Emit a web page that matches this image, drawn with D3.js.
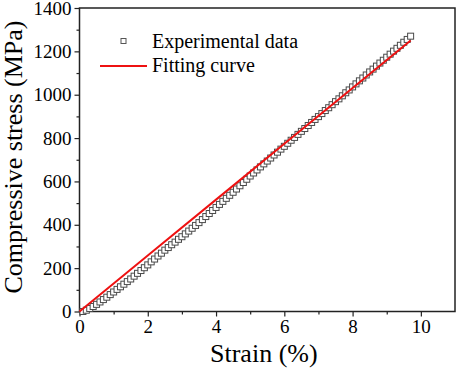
<!DOCTYPE html>
<html>
<head>
<meta charset="utf-8">
<script src="https://cdn.jsdelivr.net/npm/d3@7"></script>
<style>
  body { margin: 0; background: #fff; }
  svg text { font-family: "Liberation Serif", "Times New Roman", Times, serif !important; fill: #000; }
</style>
</head>
<body>
<div id="chart"></div>
<script>
// experimental data (strain %, stress MPa)
const expStrain = [0.1, 0.2, 0.3, 0.4, 0.5, 0.6, 0.7, 0.8, 0.9, 1.0,
  1.1, 1.2, 1.3, 1.4, 1.5, 1.6, 1.7, 1.8, 1.9, 2.0,
  2.1, 2.2, 2.3, 2.4, 2.5, 2.6, 2.7, 2.8, 2.9, 3.0,
  3.1, 3.2, 3.3, 3.4, 3.5, 3.6, 3.7, 3.8, 3.9, 4.0,
  4.1, 4.2, 4.3, 4.4, 4.5, 4.6, 4.7, 4.8, 4.9, 5.0,
  5.1, 5.2, 5.3, 5.4, 5.5, 5.6, 5.7, 5.8, 5.9, 6.0,
  6.1, 6.2, 6.3, 6.4, 6.5, 6.6, 6.7, 6.8, 6.9, 7.0,
  7.1, 7.2, 7.3, 7.4, 7.5, 7.6, 7.7, 7.8, 7.9, 8.0,
  8.1, 8.2, 8.3, 8.4, 8.5, 8.6, 8.7, 8.8, 8.9, 9.0,
  9.1, 9.2, 9.3, 9.4, 9.5, 9.6, 9.7];
const expStress = [0, 6, 14, 23, 33, 44, 55, 66, 78, 90,
  102, 114, 126, 138, 150, 163, 176, 189, 202, 215,
  229, 242, 256, 269, 283, 295, 308, 320, 333, 345,
  358, 371, 384, 397, 410, 424, 438, 452, 466, 480,
  494, 508, 522, 536, 550, 565, 580, 595, 610, 625,
  639, 653, 667, 681, 694, 708, 722, 735, 749, 762,
  776, 790, 803, 817, 831, 844, 858, 872, 886, 899,
  913, 927, 940, 954, 968, 981, 995, 1009, 1022, 1036,
  1050, 1064, 1077, 1091, 1105, 1118, 1132, 1146, 1159, 1173,
  1187, 1201, 1214, 1228, 1242, 1255, 1270];

// fitting curve
const fitStrain = [0, 2, 4, 6, 8, 9.7];
const fitStress = [0, 258, 516, 774, 1031, 1250];

const xTicks = [0, 2, 4, 6, 8, 10];
const yTicks = [0, 200, 400, 600, 800, 1000, 1200, 1400];
const legendLabels = ["Experimental data", "Fitting curve"];

const serif = "'Liberation Serif', 'Times New Roman', Times, serif";

const svg = d3.select("#chart")
  .append("svg")
  .attr("width", 457)
  .attr("height", 373);

const margin = { top: 8, right: 2, bottom: 61.5, left: 79.5 };
const width = 457 - margin.left - margin.right;
const height = 373 - margin.top - margin.bottom;

const chart = svg.append("g")
  .attr("transform", `translate(${margin.left}, ${margin.top})`);

const x = d3.scaleLinear().domain([0, 11]).range([0, width]);
const y = d3.scaleLinear().domain([0, 1400]).range([height, 0]);

// minor ticks
const xMinor = d3.range(1, 11, 2);
const yMinor = d3.range(100, 1400, 200);

chart.append("g")
  .attr("transform", `translate(0, ${height})`)
  .call(d3.axisBottom(x).tickValues(xMinor).tickSize(3).tickFormat(""))
  .call(g => g.select(".domain").remove());
chart.append("g")
  .call(d3.axisLeft(y).tickValues(yMinor).tickSize(3).tickFormat(""))
  .call(g => g.select(".domain").remove());

// x axis
const xAxis = chart.append("g")
  .attr("transform", `translate(0, ${height})`)
  .attr("font-family", serif)
  .call(d3.axisBottom(x).tickValues(xTicks).tickSize(5).tickPadding(3)
    .tickSizeOuter(0).tickFormat(d3.format("d")));
xAxis.attr("font-family", serif);
xAxis.selectAll("text").attr("font-size", "19px").style("font-family", serif);

// y axis
const yAxis = chart.append("g")
  .call(d3.axisLeft(y).tickValues(yTicks).tickSize(5).tickPadding(3)
    .tickSizeOuter(0).tickFormat(d3.format("d")));
yAxis.attr("font-family", serif);
yAxis.selectAll("text").attr("font-size", "19px").style("font-family", serif);

chart.selectAll(".tick line").attr("stroke", "#222").attr("stroke-width", 1.2);
chart.selectAll(".domain").remove();

// frame
chart.append("rect")
  .attr("width", width)
  .attr("height", height)
  .attr("fill", "none")
  .attr("stroke", "#222")
  .attr("stroke-width", 1.5);

// axis titles
svg.append("text")
  .attr("x", margin.left + x(5.4))
  .attr("y", 362)
  .attr("text-anchor", "middle")
  .attr("font-size", "26px")
  .style("font-family", serif)
  .text("Strain (%)");

svg.append("text")
  .attr("transform", "rotate(-90)")
  .attr("x", -157)
  .attr("y", 22)
  .attr("text-anchor", "middle")
  .attr("font-size", "26px")
  .style("font-family", serif)
  .text("Compressive stress (MPa)");

// experimental squares
const expData = expStrain.map((s, i) => ({ strain: s, stress: expStress[i] }));
chart.selectAll("rect.pt")
  .data(expData)
  .enter()
  .append("rect")
  .attr("class", "pt")
  .attr("x", d => x(d.strain) - 3)
  .attr("y", d => y(d.stress) - 3)
  .attr("width", 6)
  .attr("height", 6)
  .attr("fill", "#fff")
  .attr("stroke", "#4a4a4a")
  .attr("stroke-width", 1);

// fitting line
const fitData = fitStrain.map((s, i) => ({ strain: s, stress: fitStress[i] }));
chart.append("path")
  .datum(fitData)
  .attr("fill", "none")
  .attr("stroke", "#ee1111")
  .attr("stroke-width", 2)
  .attr("d", d3.line().x(d => x(d.strain)).y(d => y(d.stress)));

// legend
const legend = svg.append("g");
legend.append("rect")
  .attr("x", 121)
  .attr("y", 38.5)
  .attr("width", 5)
  .attr("height", 5)
  .attr("fill", "#fff")
  .attr("stroke", "#555");
legend.append("text")
  .attr("x", 152)
  .attr("y", 48)
  .attr("font-size", "20px")
  .style("font-family", serif)
  .text(legendLabels[0]);

legend.append("line")
  .attr("x1", 100)
  .attr("x2", 147)
  .attr("y1", 66)
  .attr("y2", 66)
  .attr("stroke", "#ee1111")
  .attr("stroke-width", 2);
legend.append("text")
  .attr("x", 152)
  .attr("y", 72)
  .attr("font-size", "20px")
  .style("font-family", serif)
  .text(legendLabels[1]);
</script>
</body>
</html>
